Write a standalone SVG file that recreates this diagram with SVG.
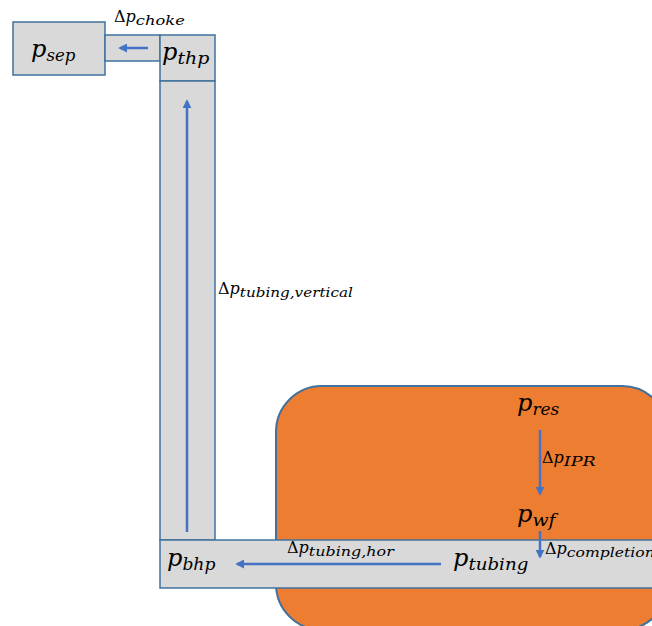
<svg xmlns="http://www.w3.org/2000/svg" width="652" height="626" viewBox="0 0 652 626">
  <defs>
    <style>
      .pipe { fill: #D9D9D9; stroke: #41719C; stroke-width: 1.5; }
      .res { fill: #ED7D31; stroke: #41719C; stroke-width: 2; }
      .flow { stroke: #4472C4; stroke-width: 2.5; fill: none; marker-end: url(#ah); }
      .big { font-family: "DejaVu Serif", "Liberation Serif", serif; font-style: italic; font-size: 24px; fill: #000; }
      .lbl { font-family: "DejaVu Serif", "Liberation Serif", serif; font-style: italic; font-size: 16px; fill: #000; }
      .sub { font-size: 17px; }
      .lsub { font-size: 13px; }
      .up { font-style: normal; }
    </style>
    <marker id="ah" viewBox="0 0 10 10" refX="8" refY="5" markerWidth="3.6" markerHeight="3.6" orient="auto">
      <path d="M0,0 L10,5 L0,10 z" fill="#4472C4"/>
    </marker>
  </defs>

  <!-- reservoir -->
  <g id="reservoir">
    <rect class="res" x="276" y="386" width="392" height="244" rx="46" ry="46"/>
  </g>

  <!-- pipes -->
  <g id="separator">
    <rect class="pipe" x="13" y="22" width="92" height="53"/>
    <text class="big" x="31" y="57">p<tspan class="sub" dy="4" textLength="29" lengthAdjust="spacingAndGlyphs">sep</tspan></text>
  </g>
  <g id="choke">
    <rect class="pipe" x="105" y="35" width="55" height="26"/>
  </g>
  <g id="wellhead">
    <rect class="pipe" x="160" y="35" width="55" height="46"/>
    <text class="big" x="162" y="60">p<tspan class="sub" dy="4" textLength="32" lengthAdjust="spacingAndGlyphs">thp</tspan></text>
  </g>
  <g id="vertical-tubing">
    <rect class="pipe" x="160" y="81" width="55" height="459"/>
  </g>
  <g id="horizontal-tubing">
    <rect class="pipe" x="160" y="540" width="500" height="48"/>
    <text class="big" x="167" y="566">p<tspan class="sub" dy="4" textLength="33" lengthAdjust="spacingAndGlyphs">bhp</tspan></text>
    <text class="big" x="453" y="566">p<tspan class="sub" dy="4" textLength="60" lengthAdjust="spacingAndGlyphs">tubing</tspan></text>
  </g>
  <g id="reservoir-labels">
    <text class="big" x="517" y="411">p<tspan class="sub" dy="4" textLength="27" lengthAdjust="spacingAndGlyphs">res</tspan></text>
    <text class="big" x="517" y="522">p<tspan class="sub" dy="4" textLength="23" lengthAdjust="spacingAndGlyphs">wf</tspan></text>
  </g>

  <!-- flow arrows -->
  <g id="connectors">
    <line class="flow" x1="148" y1="48" x2="120" y2="48"/>
    <line class="flow" x1="187" y1="532" x2="187" y2="101"/>
    <line class="flow" x1="540" y1="430" x2="540" y2="494"/>
    <line class="flow" x1="540" y1="531" x2="540" y2="557"/>
    <line class="flow" x1="441" y1="564" x2="237" y2="564"/>
  </g>

  <!-- pressure drop labels -->
  <g id="drop-labels">
    <text class="lbl" x="114" y="22"><tspan class="up">Δ</tspan>p<tspan class="lsub" dy="3" textLength="49" lengthAdjust="spacingAndGlyphs">choke</tspan></text>
    <text class="lbl" x="218" y="294"><tspan class="up">Δ</tspan>p<tspan class="lsub" dy="3" textLength="113" lengthAdjust="spacingAndGlyphs">tubing,vertical</tspan></text>
    <text class="lbl" x="542" y="463"><tspan class="up">Δ</tspan>p<tspan class="lsub" dy="3" textLength="32" lengthAdjust="spacingAndGlyphs">IPR</tspan></text>
    <text class="lbl" x="545" y="554"><tspan class="up">Δ</tspan>p<tspan class="lsub" dy="3" textLength="88" lengthAdjust="spacingAndGlyphs">completion</tspan></text>
    <text class="lbl" x="287" y="553"><tspan class="up">Δ</tspan>p<tspan class="lsub" dy="3" textLength="85" lengthAdjust="spacingAndGlyphs">tubing,hor</tspan></text>
  </g>
</svg>
